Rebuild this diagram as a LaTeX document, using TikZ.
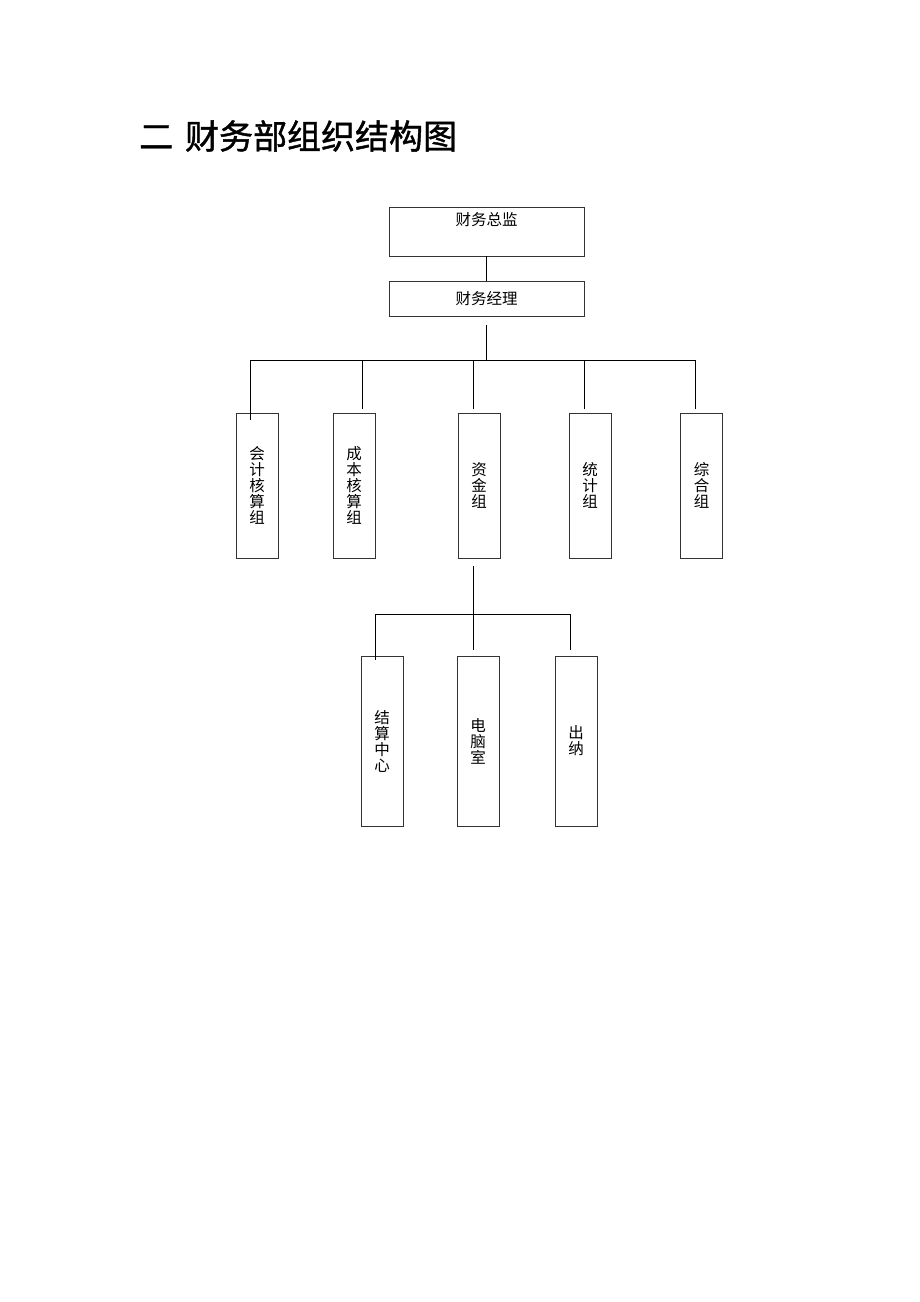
\documentclass[tikz,border=0pt]{standalone}
\usepackage{fontspec}
\usetikzlibrary{calc}
\newfontfamily\cjk{Noto Sans CJK SC}
\newfontfamily\cjkt[FakeBold=1.2]{Noto Sans CJK SC}
\begin{document}
\begin{tikzpicture}[x=1pt,y=1pt,
  box/.style={draw=black!80, line width=0.8pt, rectangle, inner sep=0pt},
  vbox/.style={box, minimum width=42pt, minimum height=145pt, align=center,
    font=\cjk\fontsize{15.5}{16}\selectfont},
  wbox/.style={box, minimum width=42pt, minimum height=170pt, align=center,
    font=\cjk\fontsize{15.5}{16}\selectfont},
  lbl/.style={font=\cjk\fontsize{15.5}{16}\selectfont, inner sep=0pt},
  conn/.style={draw=black, line width=0.8pt}]
\useasboundingbox (0,0) rectangle (920,-1302);
% title
\node[anchor=west, inner sep=0pt, font=\cjkt\fontsize{34}{36}\selectfont] (title) at (139,-136) {二\hspace{0.35em}财务部组织结构图};
% top boxes
\node[box, minimum width=195pt, minimum height=49pt] (zj) at (486.5,-231.5) {};
\node[lbl] (zjt) at (486.5,-220) {财务总监};
\node[box, minimum width=195pt, minimum height=35pt, lbl] (jl) at (486.5,-298.5) {财务经理};
% level 2
\node[vbox] (g1) at (257,-485.5) {会\\计\\核\\算\\组};
\node[vbox] (g2) at (354,-485.5) {成\\本\\核\\算\\组};
\node[vbox] (g3) at (479,-485.5) {资\\金\\组};
\node[vbox] (g4) at (590,-485.5) {统\\计\\组};
\node[vbox] (g5) at (701.5,-485.5) {综\\合\\组};
% level 3
\node[wbox] (h1) at (382,-741) {结\\算\\中\\心};
\node[wbox] (h2) at (478,-741) {电\\脑\\室};
\node[wbox] (h3) at (576,-741) {出\\纳};
% coordinates
\coordinate (b1) at (486.5,-360);
\coordinate (d1) at (250,-360);
\coordinate (d2) at (362,-360);
\coordinate (d3) at (473,-360);
\coordinate (d4) at (584,-360);
\coordinate (d5) at (695,-360);
\coordinate (s0) at (473,-566);
\coordinate (b2) at (473,-614);
\coordinate (e1) at (375,-614);
\coordinate (e3) at (570,-614);
% connectors
\draw[conn] (zj.south) -- (jl.north);
\draw[conn] (486.5,-325) -- (b1);
\draw[conn] (d1) -- (d5);
\draw[conn] (d1) -- ($(d1 |- g1.north)+(0,-7)$);
\draw[conn] (d2) -- ($(d2 |- g2.north)+(0,4)$);
\draw[conn] (d3) -- ($(d3 |- g3.north)+(0,4)$);
\draw[conn] (d4) -- ($(d4 |- g4.north)+(0,4)$);
\draw[conn] (d5) -- ($(d5 |- g5.north)+(0,4)$);
\draw[conn] (s0) -- (b2);
\draw[conn] (e1) -- (e3);
\draw[conn] (e1) -- ($(e1 |- h1.north)+(0,-4)$);
\draw[conn] (b2) -- ($(b2 |- h2.north)+(0,6)$);
\draw[conn] (e3) -- ($(e3 |- h3.north)+(0,6)$);
\end{tikzpicture}
\end{document}
